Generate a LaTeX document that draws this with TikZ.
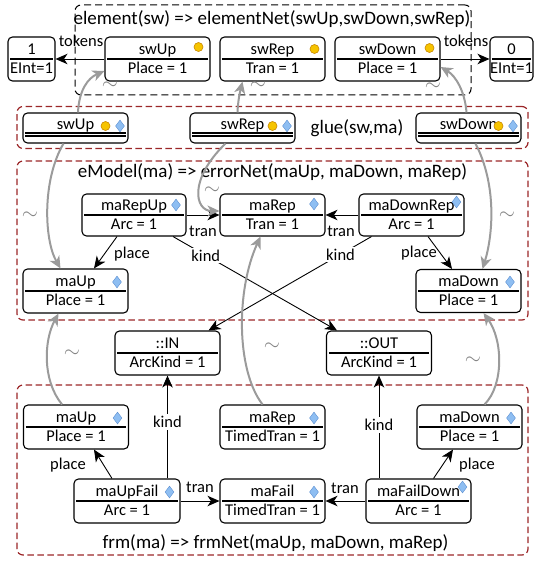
\documentclass[tikz,border=0pt]{standalone}
\usepackage{fontspec}
\setmainfont{Carlito}
\usetikzlibrary{arrows.meta,shapes.geometric}

\definecolor{framered}{RGB}{155,38,40}
\definecolor{mapgray}{RGB}{155,155,155}
\definecolor{dotfill}{RGB}{246,196,0}
\definecolor{dotedge}{RGB}{200,135,0}
\definecolor{diafill}{RGB}{142,190,242}
\definecolor{diaedge}{RGB}{95,145,210}

\newcommand{\nodefont}{\fontsize{16.5}{19}\selectfont}
\newcommand{\titlefont}{\fontsize{19}{22}\selectfont}

\tikzset{
  obj/.style={draw, rounded corners=4.5pt, line width=1.1pt, fill=white, inner sep=0pt},
  objtxt/.style={inner sep=0pt, font=\nodefont, text height=11pt, text depth=3pt},
  sepline/.style={line width=1.1pt},
  lbl/.style={font=\nodefont, inner sep=1pt},
  kindlbl/.style={lbl, fill=white, inner sep=2pt},
  arr/.style={line width=0.9pt, -{Stealth[length=12pt,width=10.5pt,inset=3.5pt]}},
  maparr/.style={draw=mapgray, line width=2pt, -{Stealth[length=12pt,width=11pt,inset=3.5pt]}},
  tilde/.style={text=mapgray!85!black, font=\fontsize{22}{24}\selectfont, inner sep=0pt, text height=4pt, text depth=0pt},
  ruleframe/.style={draw=framered, dash pattern=on 6.5pt off 3.5pt, line width=1.2pt, rounded corners=6pt},
  netframe/.style={draw=black, dash pattern=on 7pt off 4pt, line width=1pt, rounded corners=6pt},
  token/.style={circle, fill=dotfill, draw=dotedge, line width=0.6pt, minimum size=9pt, inner sep=0pt},
  gem/.style={diamond, fill=diafill, draw=diaedge, line width=0.4pt, minimum width=9pt, minimum height=12pt, inner sep=0pt},
  ttl/.style={font=\titlefont, inner sep=0pt},
}

% object box: name, x, y, width, height, title, value
\newcommand{\mknode}[7]{%
  \node[obj, minimum width=#4pt, minimum height=#5pt] (#1) at (#2,#3) {};
  \node[objtxt] (#1-t) at ([yshift=8.5pt]#1.center) {#6};
  \draw[sepline] ([xshift=3pt]#1.west) -- ([xshift=-3pt]#1.east);
  \node[objtxt] (#1-v) at ([yshift=-10.5pt]#1.center) {#7};
}
% glue object: name, x, y, title
\newcommand{\gluenode}[4]{%
  \node[obj, minimum width=105pt, minimum height=30pt] (#1) at (#2,#3) {};
  \node[objtxt] (#1-t) at ([yshift=2pt]#1.center) {#4};
  \draw[sepline] ([xshift=3pt,yshift=-5pt]#1.west) -- ([xshift=-3pt,yshift=-5pt]#1.east);
  \draw[sepline] ([xshift=3pt,yshift=-8pt]#1.west) -- ([xshift=-3pt,yshift=-8pt]#1.east);
  \node[token] (#1-dot) at ([shift={(30pt,2pt)}]#1.center) {};
  \node[gem] (#1-gem) at ([shift={(44.5pt,2pt)}]#1.center) {};
}

\begin{document}
\begin{tikzpicture}[x=1pt,y=-1pt]
\useasboundingbox (0,0) rectangle (537,561);

% rule frames
\node[netframe, minimum width=396pt, minimum height=90pt] (elemframe) at (273,50) {};
\node[ruleframe, minimum width=511pt, minimum height=42pt] (glueframe) at (272.5,127.5) {};
\node[ruleframe, minimum width=511pt, minimum height=159pt] (errframe) at (272.5,240.5) {};
\node[ruleframe, minimum width=511pt, minimum height=170pt] (frmframe) at (272.5,470) {};

\node[ttl] (elemtitle) at (272,19) {element(sw) => elementNet(swUp,swDown,swRep)};
\node[ttl] (gluetitle) at (357,128) {glue(sw,ma)};
\node[ttl] (errtitle) at (272.5,172) {eModel(ma) => errorNet(maUp, maDown, maRep)};
\node[ttl] (frmtitle) at (275.5,543) {frm(ma) => frmNet(maUp, maDown, maRep)};

% element net
\mknode{one}{31.5}{59}{47}{44}{1}{EInt=1}
\mknode{swUp}{157.5}{59}{105}{44}{swUp}{Place = 1}
\mknode{swRep}{272.5}{59}{105}{44}{swRep}{Tran = 1}
\mknode{swDown}{387.5}{59}{105}{44}{swDown}{Place = 1}
\mknode{zero}{511.5}{59}{43}{44}{0}{EInt=1}
\node[token] (swUp-dot) at ([shift={(41pt,12pt)}]swUp.center) {};
\node[token] (swRep-dot) at ([shift={(42pt,10pt)}]swRep.center) {};
\node[token] (swDown-dot) at ([shift={(42pt,11pt)}]swDown.center) {};

% glue
\gluenode{swUpG}{75.5}{128}{swUp}
\gluenode{swRepG}{242.5}{128}{swRep}
\gluenode{swDownG}{468.5}{128}{swDown}

% error net
\mknode{maRepUp}{134}{215}{104}{42}{maRepUp}{Arc = 1}
\mknode{maRepE}{272.5}{215}{105}{42}{maRep}{Tran = 1}
\mknode{maDownRep}{411.5}{215}{105}{42}{maDownRep}{Arc = 1}
\mknode{maUpE}{75.5}{291}{105}{44}{maUp}{Place = 1}
\mknode{maDownE}{468.5}{291}{105}{43}{maDown}{Place = 1}
\node[gem] (maRepUp-gem) at ([shift={(42pt,10pt)}]maRepUp.center) {};
\node[gem] (maRepE-gem) at ([shift={(41.5pt,11pt)}]maRepE.center) {};
\node[gem] (maDownRep-gem) at ([shift={(45pt,13pt)}]maDownRep.center) {};
\node[gem] (maUpE-gem) at ([shift={(41.5pt,9pt)}]maUpE.center) {};
\node[gem] (maDownE-gem) at ([shift={(41.5pt,9pt)}]maDownE.center) {};

% arc kinds
\mknode{IN}{167.5}{353}{105}{44}{::IN}{ArcKind = 1}
\mknode{OUT}{379}{353}{105}{44}{::OUT}{ArcKind = 1}

% failure net
\mknode{maUpF}{76}{427}{105}{44}{maUp}{Place = 1}
\mknode{maRepF}{272.5}{427}{105}{44}{maRep}{TimedTran = 1}
\mknode{maDownF}{469.5}{427}{105}{44}{maDown}{Place = 1}
\mknode{maUpFail}{127}{501}{106}{44}{maUpFail}{Arc = 1}
\mknode{maFail}{272.5}{501}{105}{44}{maFail}{TimedTran = 1}
\mknode{maFailDown}{418.5}{501}{105}{44}{maFailDown}{Arc = 1}
\node[gem] (maUpF-gem) at ([shift={(41.5pt,9pt)}]maUpF.center) {};
\node[gem] (maRepF-gem) at ([shift={(41.5pt,9pt)}]maRepF.center) {};
\node[gem] (maDownF-gem) at ([shift={(41.5pt,9pt)}]maDownF.center) {};
\node[gem] (maUpFail-gem) at ([shift={(42.5pt,9pt)}]maUpFail.center) {};
\node[gem] (maFail-gem) at ([shift={(41.5pt,9pt)}]maFail.center) {};
\node[gem] (maFailDown-gem) at ([shift={(44pt,14pt)}]maFailDown.center) {};

% token references
\draw[arr] (swUp.west) -- (one.east);
\draw[arr] (swDown.east) -- (zero.west);
\node[lbl] (tokL) at (81,41) {tokens};
\node[lbl] (tokR) at (466,41) {tokens};

% error net arcs
\draw[arr] (maRepUp.east) -- (maRepE.west);
\draw[arr] (maDownRep.west) -- (maRepE.east);
\node[lbl] (tranA) at (203,231) {tran};
\node[lbl] (tranB) at (341,231) {tran};
\draw[arr] ([xshift=-17pt]maRepUp.south) -- ([xshift=18.5pt]maUpE.north);
\draw[arr] ([xshift=16.5pt]maDownRep.south) -- ([xshift=-16.5pt]maDownE.north);
\node[lbl] (placeA) at (132,254) {place};
\node[lbl] (placeB) at (419,253) {place};
\draw[arr] ([xshift=39pt]maRepUp.south) -- node[kindlbl, pos=0.2] (kindA) {kind} ([xshift=-42pt]OUT.north);
\draw[arr] ([xshift=-40pt]maDownRep.south) -- node[kindlbl, pos=0.19] (kindB) {kind} ([xshift=41pt]IN.north);

% failure net arcs
\draw[arr] ([xshift=-15pt]maUpFail.north) -- ([xshift=18pt]maUpF.south);
\draw[arr] ([xshift=15pt]maFailDown.north) -- ([xshift=-16.5pt]maDownF.south);
\node[lbl] (placeC) at (68,465) {place};
\node[lbl] (placeD) at (477,465) {place};
\draw[arr] ([xshift=40.5pt]maUpFail.north) -- node[kindlbl, pos=0.55] (kindC) {kind} ([xshift=0pt]IN.south);
\draw[arr] ([xshift=-39.5pt]maFailDown.north) -- node[kindlbl, pos=0.52] (kindD) {kind} (OUT.south);
\draw[arr] (maUpFail.east) -- (maFail.west);
\draw[arr] (maFailDown.west) -- (maFail.east);
\node[lbl] (tranC) at (200,487) {tran};
\node[lbl] (tranD) at (345,488) {tran};

% correspondence mappings
\draw[maparr] ([xshift=2.5pt]swUpG.north) .. controls (79,90) and (88,78) .. ([yshift=-12pt]swUp.west);
\draw[maparr] ([xshift=-5pt]swRepG.north) .. controls (238,100) and (240,92) .. ([xshift=-30pt]swRep.south);
\draw[maparr] ([xshift=-2pt]swDownG.north) .. controls (465,92) and (456,76) .. ([yshift=-8pt]swDown.east);
\draw[maparr] ([xshift=-12pt]swUpG.south) .. controls (42,180) and (44,240) .. ([xshift=-15pt]maUpE.north);
\draw[maparr] ([xshift=-17pt]swRepG.south) .. controls (188,180) and (195,211) .. ([yshift=4pt]maRepE.west);
\draw[maparr] ([xshift=7pt]swDownG.south) .. controls (497,185) and (493,235) .. ([xshift=14pt]maDownE.north);
\draw[maparr] ([xshift=-14pt]maUpF.north) .. controls (42,380) and (44,340) .. ([xshift=-17pt]maUpE.south);
\draw[maparr] ([xshift=-10pt]maRepF.north) .. controls (236,370) and (236,290) .. ([xshift=-12pt]maRepE.south);
\draw[maparr] ([xshift=15pt]maDownF.north) .. controls (504,385) and (503,340) .. ([xshift=15pt]maDownE.south);

\node[tilde] (tl1) at (110,88) {$\sim$};
\node[tilde] (tl2) at (258,88) {$\sim$};
\node[tilde] (tl3) at (433,89) {$\sim$};
\node[tilde] (tl4) at (30,217) {$\sim$};
\node[tilde] (tl5) at (212,192) {$\sim$};
\node[tilde] (tl6) at (507,217) {$\sim$};
\node[tilde] (tl7) at (72,355) {$\sim$};
\node[tilde] (tl8) at (272,348) {$\sim$};
\node[tilde] (tl9) at (473,362) {$\sim$};
\end{tikzpicture}
\end{document}
